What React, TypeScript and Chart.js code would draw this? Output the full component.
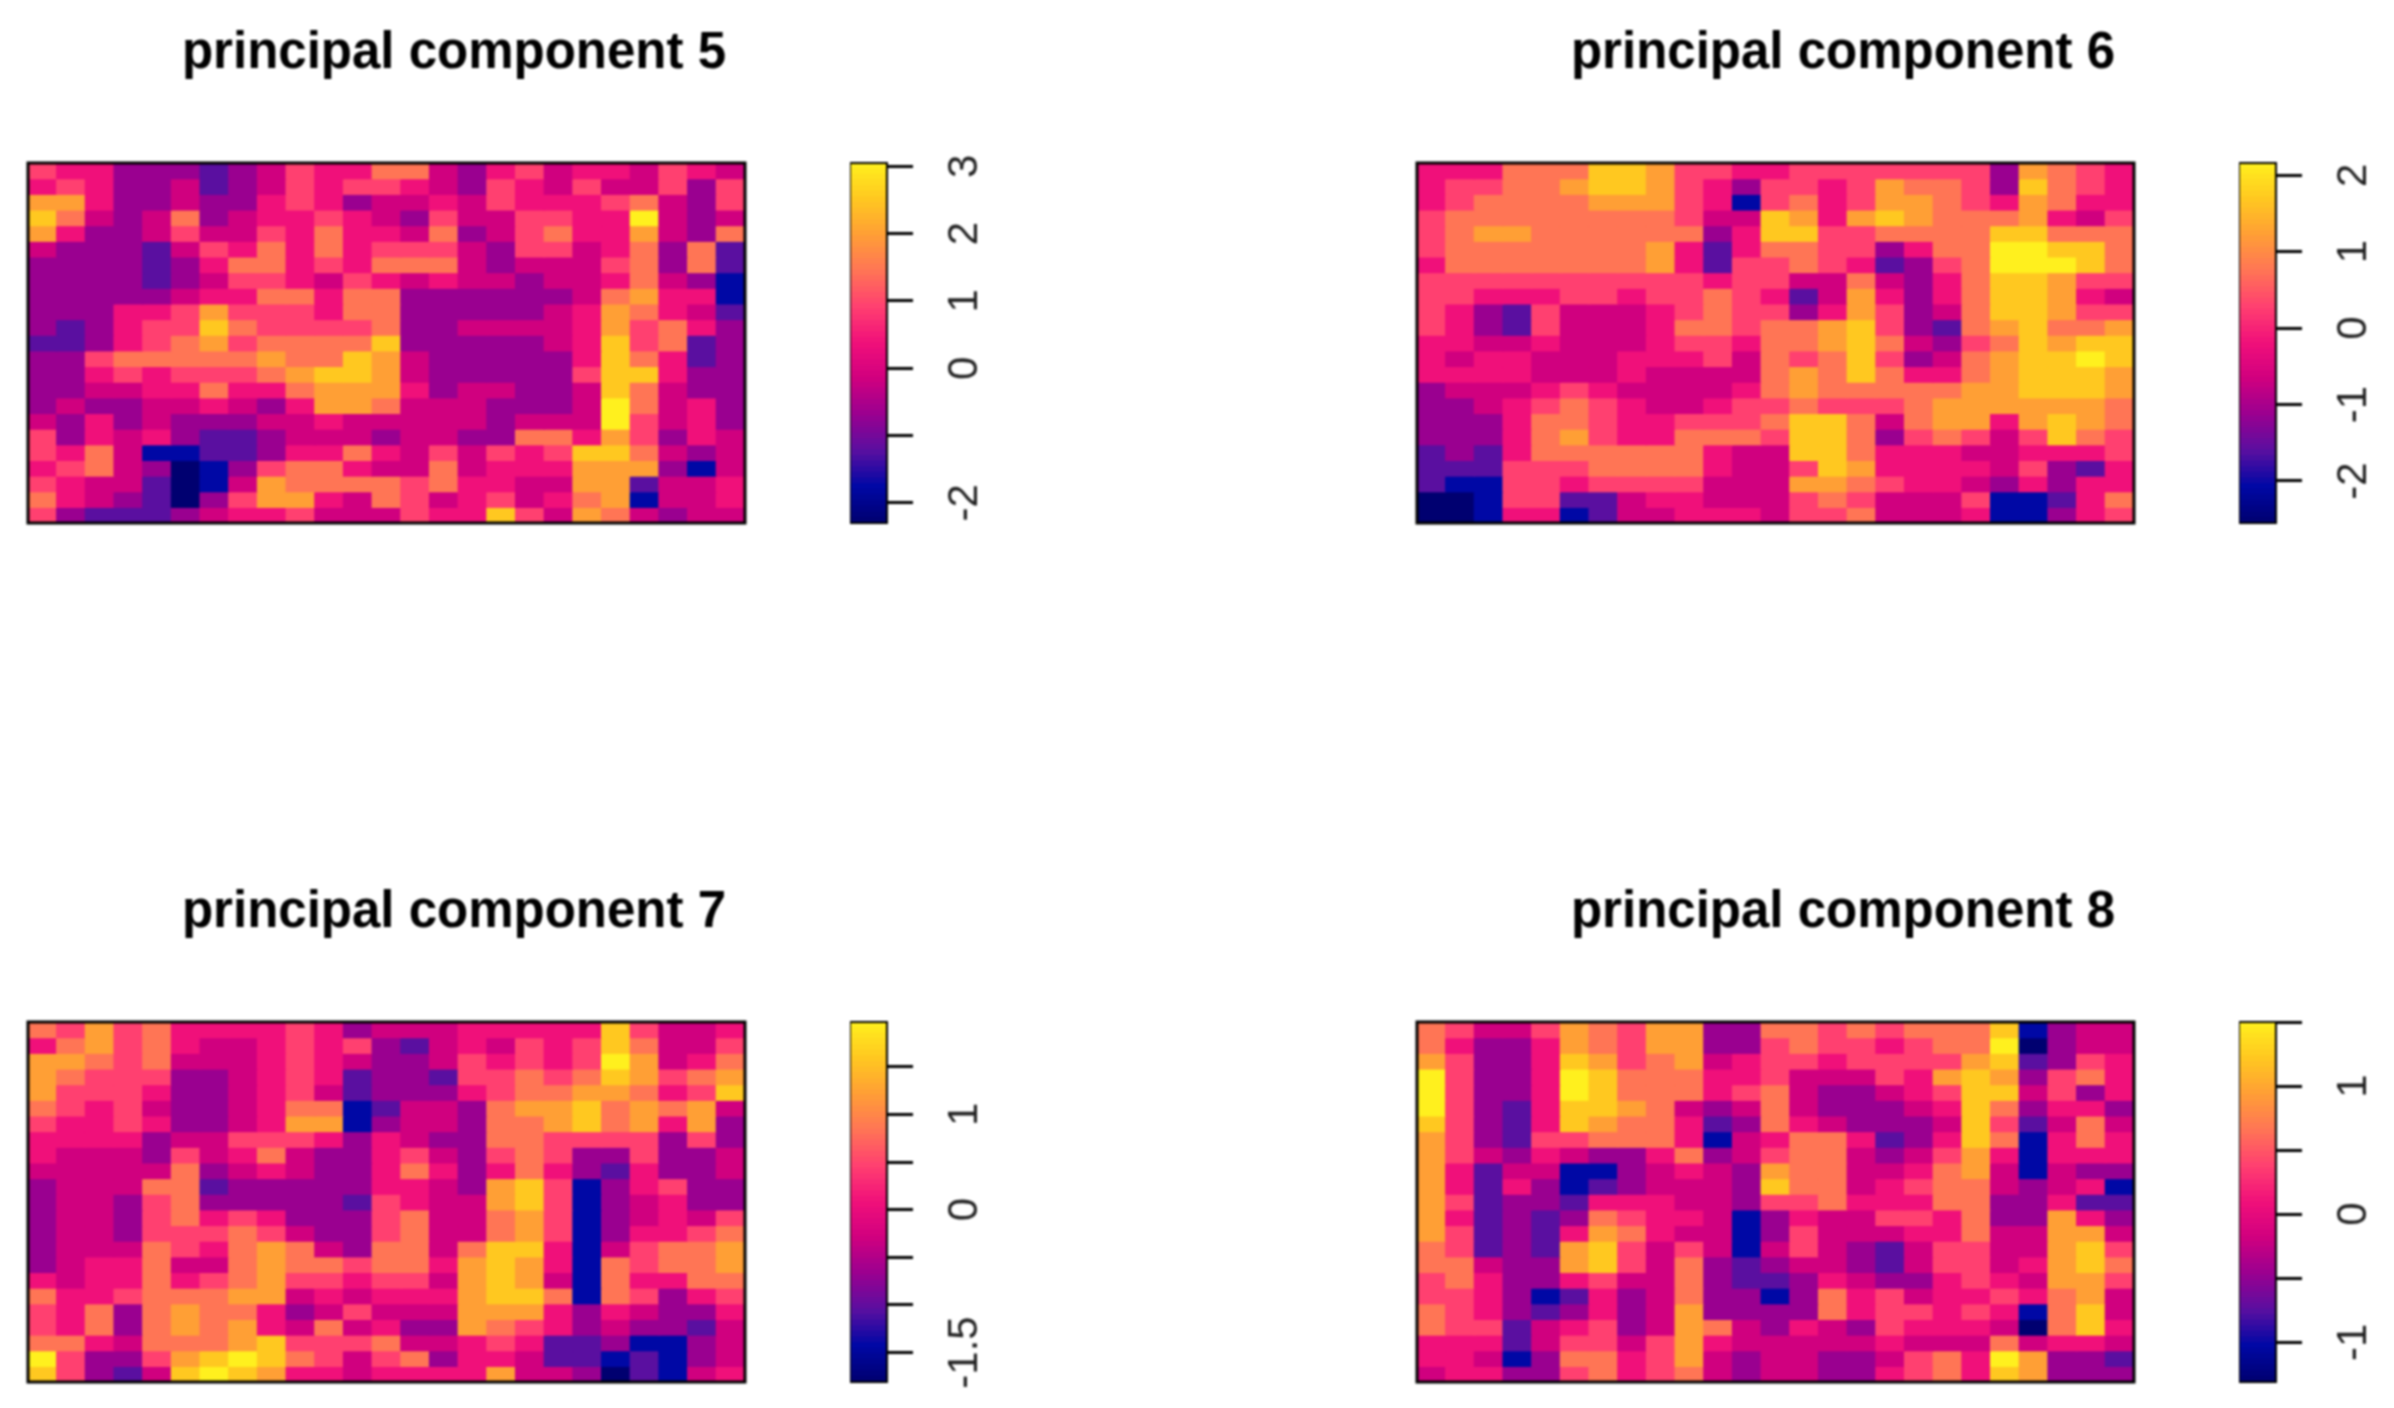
import React, { useEffect, useRef } from "react";
import { Chart, registerables } from "chart.js";

Chart.register(...registerables);

// Cell values are colour-scale positions: 0 = bottom of the colour bar, 10 = top.
const pc5Cells = [
  [6,5,5,3,3,3,2,3,4,6,5,5,7,7,4,3,5,6,4,5,5,4,6,5,4],
  [5,6,5,3,3,4,2,3,4,6,5,6,6,5,4,3,6,5,4,6,4,4,6,3,6],
  [8,8,5,3,3,4,3,3,5,6,5,3,4,4,5,4,6,5,5,5,6,7,4,3,6],
  [9,7,4,3,4,7,3,4,5,5,6,5,4,3,6,4,4,6,6,5,5,10,4,3,4],
  [8,5,3,3,4,6,4,4,6,5,7,5,5,4,7,3,4,6,7,5,5,8,4,3,7],
  [4,3,3,3,2,4,6,5,7,5,7,5,6,6,6,4,3,6,6,4,5,7,3,7,2],
  [3,3,3,3,2,3,5,7,7,5,6,5,7,7,7,4,3,4,4,4,6,7,3,7,2],
  [3,3,3,3,2,3,4,6,6,5,4,6,5,4,5,4,4,3,4,4,5,7,4,3,1],
  [3,3,3,3,3,4,5,5,7,7,5,7,7,3,3,3,3,3,3,4,7,8,5,5,1],
  [3,3,3,5,5,6,8,6,6,6,5,7,7,3,3,3,3,3,4,5,8,7,5,4,2],
  [3,2,3,5,6,6,9,7,6,6,6,6,7,3,3,4,4,4,4,5,8,6,7,5,3],
  [2,2,3,5,6,7,8,6,7,7,7,7,9,3,3,3,3,3,4,5,9,6,7,2,3],
  [3,3,6,7,7,7,7,7,8,7,7,9,8,4,3,3,3,3,3,5,9,7,5,2,3],
  [3,3,5,6,5,6,6,6,7,8,9,9,8,4,3,3,3,3,3,6,9,9,5,3,3],
  [3,3,4,4,5,5,7,5,5,7,8,8,8,5,3,4,4,3,3,4,9,7,4,3,3],
  [3,4,3,3,4,4,5,4,3,5,8,8,7,4,4,4,3,3,3,4,10,7,4,5,3],
  [4,3,5,3,4,3,3,3,4,4,5,4,4,4,4,4,3,4,4,4,10,6,4,5,3],
  [6,3,5,4,5,3,2,2,3,4,4,4,3,4,4,3,3,7,7,5,8,6,3,5,4],
  [6,5,7,4,1,1,2,2,3,5,5,7,5,4,6,4,6,5,6,9,9,7,4,3,4],
  [5,6,7,4,3,0,1,3,6,7,7,5,4,4,7,4,5,5,5,8,8,8,3,1,4],
  [6,5,4,4,2,0,1,4,8,7,7,7,7,6,7,5,5,4,4,8,8,2,4,4,5],
  [7,5,4,3,2,0,3,6,8,8,5,4,7,6,4,5,6,4,5,7,8,1,4,4,5],
  [6,3,2,2,2,3,4,5,5,6,4,4,4,6,5,5,9,6,4,8,7,4,3,4,4],
];
const pc6Cells = [
  [5,5,5,7,7,7,9,9,8,6,6,5,5,6,6,6,6,6,6,6,3,8,7,6,5],
  [5,6,6,7,7,8,9,9,8,6,5,3,6,6,5,6,8,7,7,6,3,9,7,6,5],
  [5,6,7,7,7,7,8,8,8,6,5,1,6,7,5,6,8,8,7,6,5,8,7,5,5],
  [6,7,7,7,7,7,7,7,7,6,4,4,9,8,5,8,9,8,7,7,7,8,5,4,6],
  [6,7,8,8,7,7,7,7,7,7,3,5,9,9,6,6,7,7,7,7,9,9,7,7,7],
  [6,7,7,7,7,7,7,7,8,5,2,5,7,7,6,6,3,5,7,7,10,10,9,9,7],
  [5,7,7,7,7,7,7,7,8,5,2,6,6,7,6,5,2,3,6,7,10,10,10,9,7],
  [6,6,6,6,6,6,6,6,6,6,5,6,6,4,4,7,4,3,5,7,9,9,8,6,6],
  [6,6,5,5,5,6,6,5,6,6,7,6,5,2,4,8,5,3,5,7,9,9,8,5,4],
  [6,5,3,2,6,4,4,4,5,6,7,6,6,3,5,8,6,3,4,7,9,9,8,6,6],
  [6,5,3,2,6,4,4,4,5,7,7,6,7,7,8,9,6,3,2,7,8,9,7,7,8],
  [5,5,4,4,5,4,4,4,5,6,6,5,7,7,8,9,7,4,3,6,7,9,8,9,9],
  [5,4,5,5,4,4,4,5,5,5,6,4,7,6,7,9,6,3,4,7,8,9,9,10,9],
  [5,5,5,5,4,4,4,5,4,4,4,4,7,8,7,9,7,5,5,7,8,9,9,9,8],
  [3,4,4,4,5,6,5,4,4,4,4,5,7,8,7,7,7,7,7,8,8,9,9,9,8],
  [3,3,4,5,6,7,6,5,4,4,5,6,6,7,6,6,6,7,8,8,8,8,8,8,7],
  [3,3,3,5,7,7,6,5,5,6,6,6,7,9,9,7,4,7,8,8,5,8,9,8,7],
  [3,3,3,5,7,8,6,5,5,7,7,7,6,9,9,7,3,6,7,6,4,6,9,7,6],
  [2,3,2,5,7,7,7,7,7,7,5,4,4,9,9,7,5,5,5,4,4,5,5,5,6],
  [2,2,2,6,6,6,7,7,7,7,5,4,4,6,9,8,5,5,5,5,4,6,3,2,5],
  [2,1,1,6,6,5,6,6,6,6,4,4,4,8,8,7,6,5,5,4,3,5,3,5,5],
  [0,0,1,6,6,2,2,4,5,5,4,4,4,6,7,6,4,4,4,6,1,1,2,5,7],
  [0,0,1,5,5,1,2,4,4,5,5,5,4,6,6,7,4,4,4,5,1,1,3,5,6],
];
const pc7Cells = [
  [7,6,8,6,7,5,5,5,5,6,5,3,4,4,4,5,5,5,5,5,9,6,4,4,5],
  [5,7,8,6,7,5,4,4,5,6,5,6,3,2,4,5,4,6,5,6,9,7,4,4,6],
  [8,8,7,6,7,4,4,4,5,6,5,4,3,3,4,6,5,6,5,6,10,8,4,5,7],
  [8,7,6,6,6,3,3,4,5,6,5,2,3,3,2,6,6,7,6,7,9,8,6,7,8],
  [8,6,6,6,5,3,3,4,5,6,4,2,3,3,3,5,6,7,7,8,8,7,5,6,9],
  [7,6,5,6,4,3,3,4,5,7,7,1,2,4,4,3,7,8,8,9,7,8,7,8,4],
  [6,5,5,6,5,3,3,4,5,8,8,1,3,4,4,3,7,7,8,9,7,8,5,8,3],
  [5,5,5,5,3,4,4,6,6,6,5,3,5,4,3,3,7,7,6,6,6,6,3,6,3],
  [5,4,4,4,3,6,4,5,7,4,3,3,5,6,4,3,6,7,6,3,3,6,3,3,4],
  [4,4,4,4,4,7,3,4,5,4,3,3,5,7,5,3,5,7,5,3,2,5,3,3,4],
  [3,4,4,4,7,7,2,3,3,3,3,3,5,5,4,3,8,9,6,1,3,5,6,3,3],
  [3,4,4,3,6,7,3,3,3,3,3,2,6,5,4,4,8,9,6,1,3,4,5,3,3],
  [3,4,4,3,6,7,5,6,5,3,3,3,6,7,4,4,7,8,6,1,3,4,5,4,6],
  [3,4,4,3,6,6,6,7,6,4,3,3,6,7,4,4,7,8,6,1,3,5,5,6,7],
  [3,4,4,4,7,6,5,7,8,7,4,3,7,7,4,7,9,9,5,1,4,6,7,7,8],
  [3,4,5,5,7,4,4,7,8,7,7,6,7,7,5,8,9,8,5,1,7,6,7,7,8],
  [5,4,5,5,7,5,6,7,8,6,6,5,6,6,4,8,9,8,4,1,7,5,5,7,7],
  [7,5,5,6,7,7,7,8,8,4,5,4,5,5,5,8,9,9,7,1,7,6,3,5,6],
  [6,5,7,3,7,8,7,7,5,3,4,6,4,4,4,8,8,8,5,3,5,4,3,3,5],
  [6,5,7,3,7,8,7,8,5,4,7,4,5,3,3,8,7,6,5,3,4,3,3,2,4],
  [7,7,5,4,7,7,7,8,9,6,6,6,7,4,4,5,6,5,2,2,3,1,1,3,4],
  [10,6,3,3,6,8,9,10,9,7,6,4,6,7,3,5,5,4,2,2,1,2,1,3,4],
  [9,6,3,2,4,9,10,9,8,5,5,4,5,5,5,5,8,4,4,3,0,2,1,4,5],
];
const pc8Cells = [
  [7,6,4,4,6,8,7,6,8,8,3,3,7,7,6,7,6,7,7,7,9,1,3,4,4],
  [7,5,3,3,5,8,7,6,8,8,3,3,6,7,6,6,5,6,7,7,10,0,3,4,4],
  [8,6,3,3,5,9,8,6,7,8,4,5,6,6,5,6,6,6,6,8,9,2,3,6,5],
  [10,6,3,3,5,10,9,7,7,7,5,5,6,4,4,4,6,5,8,9,8,3,6,7,5],
  [10,6,3,3,5,10,9,7,7,7,5,6,7,4,3,3,4,5,6,9,9,4,6,3,5],
  [10,6,3,2,5,9,9,8,7,4,3,4,7,4,3,3,3,4,5,9,7,3,5,5,3],
  [9,6,3,2,5,9,8,7,7,5,2,3,7,5,4,3,3,3,4,9,6,2,4,7,4],
  [8,6,3,2,6,6,7,7,7,5,1,4,5,7,7,5,2,3,5,9,7,1,5,7,5],
  [8,6,4,3,5,4,3,3,5,7,3,4,6,7,7,4,3,4,6,8,5,1,5,5,5],
  [8,5,2,4,4,1,1,3,4,5,4,3,8,7,7,4,4,5,7,8,4,1,4,3,3],
  [8,5,2,5,3,1,2,3,4,4,4,3,9,7,7,4,5,6,7,7,4,3,4,5,1],
  [8,6,2,3,3,2,5,5,5,4,4,3,6,6,7,5,5,5,7,7,3,3,5,2,2],
  [8,5,2,3,2,3,7,6,5,5,4,1,3,5,4,4,6,6,5,7,3,3,8,5,3],
  [8,6,2,3,2,5,8,7,5,4,4,1,3,6,4,4,4,5,5,7,4,4,8,8,4],
  [7,6,2,3,2,8,9,6,4,6,4,1,4,6,4,3,2,4,6,6,4,4,8,9,6],
  [7,7,4,3,3,8,9,6,4,7,3,2,3,4,4,3,2,4,6,6,4,5,8,9,7],
  [6,7,5,3,3,5,6,4,4,7,3,2,2,3,5,4,3,3,5,6,5,4,8,8,6],
  [6,6,5,3,1,2,5,3,4,7,3,3,1,3,7,5,6,4,5,5,6,5,7,8,4],
  [7,6,5,3,2,3,5,3,4,8,3,3,3,3,7,5,6,6,5,6,5,1,7,9,4],
  [7,6,6,2,4,5,6,3,4,8,7,4,3,5,4,3,6,5,5,5,4,0,7,9,5],
  [5,5,5,2,4,6,6,4,6,8,5,4,4,4,4,4,5,4,4,4,7,4,5,5,4],
  [5,5,4,1,3,7,7,5,6,8,4,3,4,4,3,3,4,6,7,5,10,8,3,3,2],
  [4,5,5,3,3,6,7,5,6,7,4,3,4,4,3,3,5,6,7,5,9,8,3,3,3],
];

const pc5Ticks = [-2, -1, 0, 1, 2, 3];
const pc5Labels = ["-2", "", "0", "1", "2", "3"];
const pc6Ticks = [-2, -1, 0, 1, 2];
const pc6Labels = ["-2", "-1", "0", "1", "2"];
const pc7Ticks = [-1.5, -1, -0.5, 0, 0.5, 1, 1.5];
const pc7Labels = ["-1.5", "", "", "0", "", "1", ""];
const pc8Ticks = [-1, -0.5, 0, 0.5, 1, 1.5];
const pc8Labels = ["-1", "", "0", "", "1", ""];

const paletteStops = [
  [0, 0, 0x70],
  [0, 8, 0xa5],
  [0x5a, 0x0f, 0xa0],
  [0x9a, 0, 0x90],
  [0xd0, 0, 0x7f],
  [0xf0, 0x10, 0x7a],
  [0xff, 0x40, 0x70],
  [0xff, 0x75, 0x55],
  [0xff, 0x9f, 0x35],
  [0xff, 0xc8, 0x20],
  [0xff, 0xf0, 0x1e],
];

function colour(level: number) {
  const l = Math.max(0, Math.min(10, level));
  const i = Math.min(9, Math.floor(l));
  const f = l - i;
  const a = paletteStops[i];
  const b = paletteStops[i + 1];
  return `rgb(${a.map((v, k) => Math.round(v + (b[k] - v) * f)).join(",")})`;
}

const panels = [
  { title: "principal component 5", cells: pc5Cells, ticks: pc5Ticks, labels: pc5Labels, min: -2.3, max: 3.05, left: 0, top: 0, pad: 34 },
  { title: "principal component 6", cells: pc6Cells, ticks: pc6Ticks, labels: pc6Labels, min: -2.55, max: 2.16, left: 1389, top: 0, pad: 34 },
  { title: "principal component 7", cells: pc7Cells, ticks: pc7Ticks, labels: pc7Labels, min: -1.81, max: 1.97, left: 0, top: 859, pad: 16 },
  { title: "principal component 8", cells: pc8Cells, ticks: pc8Ticks, labels: pc8Labels, min: -1.31, max: 1.5, left: 1389, top: 859, pad: 34 },
];

const frame = (lineWidth: number) => ({
  id: "frame",
  afterDatasetsDraw(chart: any) {
    const { ctx, chartArea: a } = chart;
    ctx.save();
    ctx.strokeStyle = "#000";
    ctx.lineWidth = lineWidth;
    ctx.strokeRect(a.left, a.top, a.right - a.left, a.bottom - a.top);
    ctx.restore();
  },
});

const spacerAxis = (position: string, width: number, extra: any = {}) => ({
  position,
  display: true,
  border: { display: false },
  grid: { display: false },
  ticks: { display: false },
  afterFit: (s: any) => {
    s.width = width;
    s.paddingTop = 0;
    s.paddingBottom = 0;
  },
  ...extra,
});

function heatmapConfig(p: any): any {
  const nRows = p.cells.length;
  const nCols = p.cells[0].length;
  return {
    type: "bar",
    data: {
      labels: Array.from({ length: nCols }, (_, i) => String(i)),
      datasets: p.cells.map((row: number[], r: number) => ({
        data: row.map(() => [r, r + 1]),
        backgroundColor: row.map(colour),
        borderWidth: 0,
        inflateAmount: 0.6,
        grouped: false,
        barPercentage: 1,
        categoryPercentage: 1,
      })),
    },
    options: {
      responsive: false,
      animation: false,
      layout: { padding: { left: 0, right: 0, top: 0, bottom: 3 } },
      plugins: {
        legend: { display: false },
        tooltip: { enabled: false },
        title: {
          display: true,
          text: p.title,
          color: "#000",
          font: { family: "'Liberation Sans'", size: 51, weight: "bold", lineHeight: 1.2 },
          padding: { top: 23, bottom: 78.8 },
        },
      },
      scales: {
        x: { display: false, offset: true },
        y: spacerAxis("left", 28, { reverse: true, min: 0, max: nRows }),
        spacer: spacerAxis("right", 163, { min: 0, max: 1 }),
      },
    },
    plugins: [frame(3)],
  };
}

function colourBarConfig(p: any): any {
  const steps = Array.from({ length: 64 }, (_, i) => i);
  const span = p.max - p.min;
  return {
    type: "bar",
    data: {
      labels: ["bar"],
      datasets: steps.map((s) => ({
        data: [[p.min + (span * s) / 64, p.min + (span * (s + 1)) / 64]],
        backgroundColor: colour(((s + 0.5) / 64) * 10),
        borderWidth: 0,
        inflateAmount: 0.6,
        grouped: false,
        barPercentage: 1,
        categoryPercentage: 1,
      })),
    },
    options: {
      responsive: false,
      animation: false,
      layout: { padding: { left: 0, right: 0, top: 163, bottom: 26 } },
      plugins: { legend: { display: false }, tooltip: { enabled: false }, title: { display: false } },
      scales: {
        x: { display: false },
        y: {
          position: "right",
          min: p.min,
          max: p.max,
          border: { display: false },
          grid: { drawOnChartArea: false, drawTicks: true, tickLength: 26, tickWidth: 3, color: "#000" },
          ticks: {
            autoSkip: false,
            minRotation: 90,
            maxRotation: 90,
            crossAlign: "center",
            padding: p.pad,
            color: "#222",
            font: { family: "'Liberation Sans'", size: 42 },
            callback: (v: number) => {
              const i = p.ticks.indexOf(v);
              return i >= 0 ? p.labels[i] : "";
            },
          },
          afterBuildTicks: (s: any) => {
            s.ticks = p.ticks.map((value: number) => ({ value }));
          },
          afterFit: (s: any) => {
            s.width = 113;
            s.paddingTop = 0;
            s.paddingBottom = 0;
          },
        },
      },
    },
    plugins: [frame(2)],
  };
}

function Panel({ p }: { p: any }) {
  const heat = useRef<HTMLCanvasElement>(null);
  const bar = useRef<HTMLCanvasElement>(null);
  useEffect(() => {
    const a = new Chart(heat.current as any, heatmapConfig(p));
    const b = new Chart(bar.current as any, colourBarConfig(p));
    return () => {
      a.destroy();
      b.destroy();
    };
  }, [p]);
  return (
    <>
      <canvas ref={heat} width={908} height={526} style={{ position: "absolute", left: p.left, top: p.top }} />
      <canvas ref={bar} width={150} height={549} style={{ position: "absolute", left: p.left + 850, top: p.top }} />
    </>
  );
}

export default function App() {
  return (
    <div style={{ position: "absolute", left: 0, top: 0, width: 2394, height: 1408, overflow: "hidden", background: "#fff", filter: "blur(0.9px)" }}>
      {panels.map((p) => (
        <Panel key={p.title} p={p} />
      ))}
    </div>
  );
}
